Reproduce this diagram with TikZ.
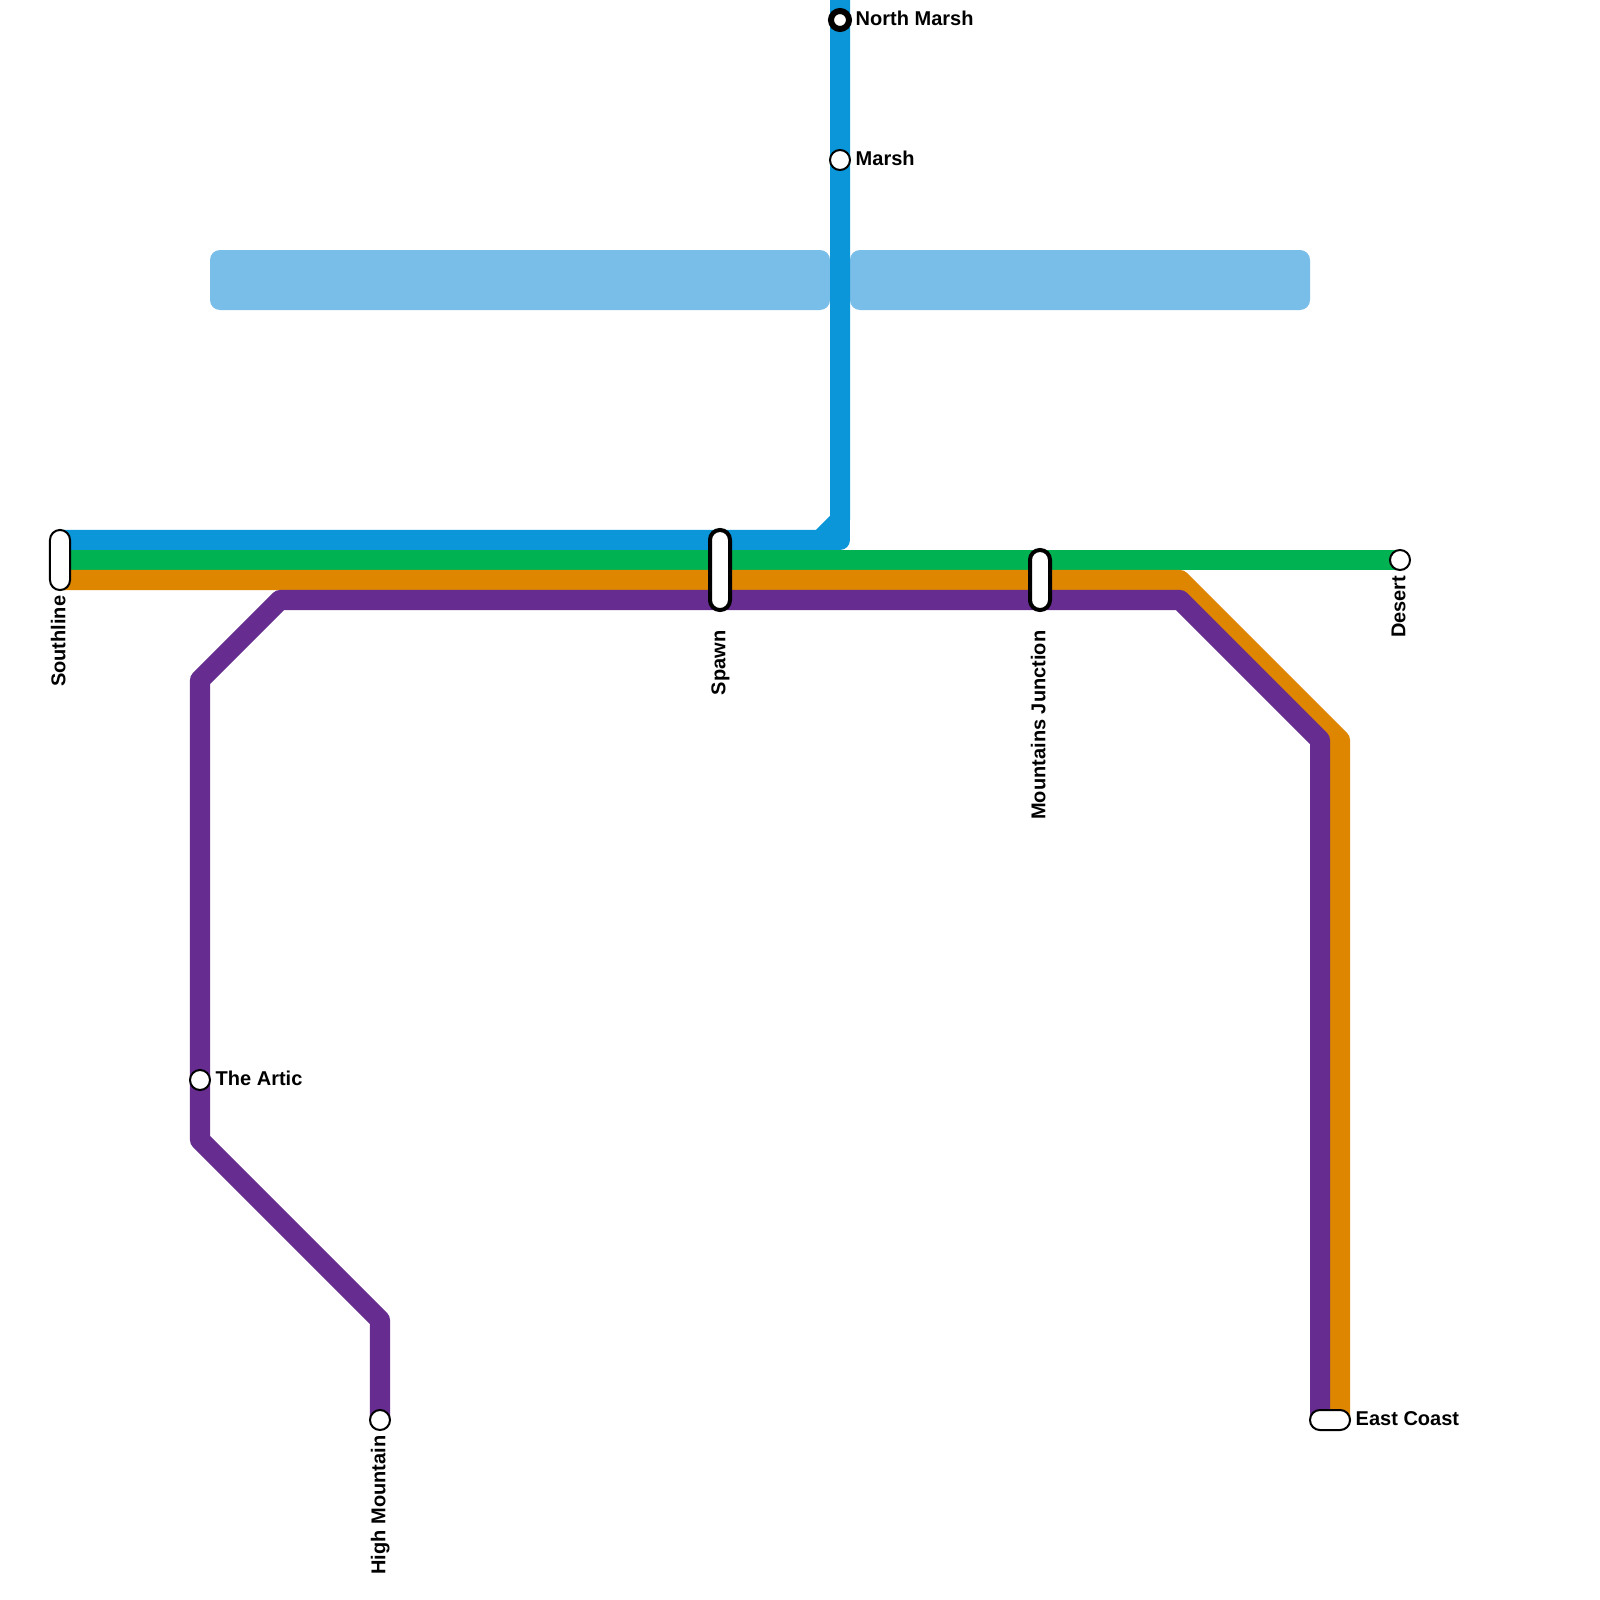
\documentclass[tikz,border=0pt]{standalone}
\usepackage{fontspec}
\setmainfont{Liberation Sans}

\definecolor{lineblue}{HTML}{0A96D9}
\definecolor{linegreen}{HTML}{00B251}
\definecolor{lineorange}{HTML}{DE8600}
\definecolor{linepurple}{HTML}{662C90}
\definecolor{waterblue}{HTML}{79BDE9}

\begin{document}
\begin{tikzpicture}[
        x=0.01cm, y=-0.01cm,
        track/.style={line width=0.2cm, line join=round},
        water/.style={fill=waterblue, rounded corners=0.1cm},
        station/.style={circle, draw=black, fill=white, line width=0.02cm, minimum size=0.2cm, inner sep=0pt},
        terminus/.style={circle, draw=black, fill=white, line width=0.06cm, minimum size=0.18cm, inner sep=0pt},
        pill/.style={rectangle, draw=black, fill=white, line width=0.02cm, rounded corners=0.099cm, inner sep=0pt},
        thickpill/.style={pill, line width=0.04cm},
        stationname/.style={font=\bfseries\fontsize{5.69pt}{6pt}\selectfont, inner sep=0pt, text=black},
        rightname/.style={stationname, anchor=mid west},
        downname/.style={stationname, rotate=90, anchor=mid east}
    ]

    \useasboundingbox (0,0) rectangle (1600,1600);

    \fill[water] (210,250) rectangle (830,310);
    \fill[water] (850,250) rectangle (1310,310);

    \coordinate (South1) at (60,540);
    \coordinate (South2) at (60,560);
    \coordinate (South3) at (60,580);
    \coordinate (Bend) at (820,540);
    \coordinate (Corner) at (840,540);
    \coordinate (Rise) at (840,520);
    \coordinate (Top) at (840,0);
    \coordinate (Des) at (1400,560);
    \coordinate (O1) at (1180,580);
    \coordinate (O2) at (1340,740);
    \coordinate (O3) at (1340,1420);
    \coordinate (P1) at (380,1420);
    \coordinate (P2) at (380,1320);
    \coordinate (P3) at (200,1140);
    \coordinate (P4) at (200,680);
    \coordinate (P5) at (280,600);
    \coordinate (P6) at (1180,600);
    \coordinate (P7) at (1320,740);
    \coordinate (P8) at (1320,1420);

    \draw[track, lineblue] (South1) -- (Bend) -- (Rise) -- (Top);
    \draw[track, lineblue] (Bend) -- (Corner) -- (Rise);
    \draw[track, linegreen] (South2) -- (Des);
    \draw[track, lineorange] (South3) -- (O1) -- (O2) -- (O3);
    \draw[track, linepurple] (P1) -- (P2) -- (P3) -- (P4) -- (P5) -- (P6) -- (P7) -- (P8);

    \node[pill, minimum width=0.2cm, minimum height=0.6cm] (Southline) at (60,560) {};
    \node[thickpill, minimum width=0.2cm, minimum height=0.8cm] (Spawn) at (720,570) {};
    \node[thickpill, minimum width=0.2cm, minimum height=0.6cm] (Mountains) at (1040,580) {};
    \node[pill, minimum width=0.4cm, minimum height=0.2cm] (EastCoast) at (1330,1420) {};
    \node[terminus] (NorthMarsh) at (840,20) {};
    \node[station] (Marsh) at (840,160) {};
    \node[station] (Artic) at (200,1080) {};
    \node[station] (HighMountain) at (380,1420) {};
    \node[station] (Desert) at (1400,560) {};

    \node[rightname] (NorthMarshName) at (855,16) {North Marsh};
    \node[rightname] (MarshName) at (855,156) {Marsh};
    \node[rightname] (ArticName) at (215,1076) {The Artic};
    \node[rightname] (EastCoastName) at (1355,1416) {East Coast};
    \node[downname] (SouthlineName) at (56,595) {Southline};
    \node[downname] (SpawnName) at (716,630) {Spawn};
    \node[downname] (MountainsName) at (1036,630) {Mountains Junction};
    \node[downname] (HighMountainName) at (376,1435) {High Mountain};
    \node[downname] (DesertName) at (1396,575) {Desert};
\end{tikzpicture}
\end{document}
